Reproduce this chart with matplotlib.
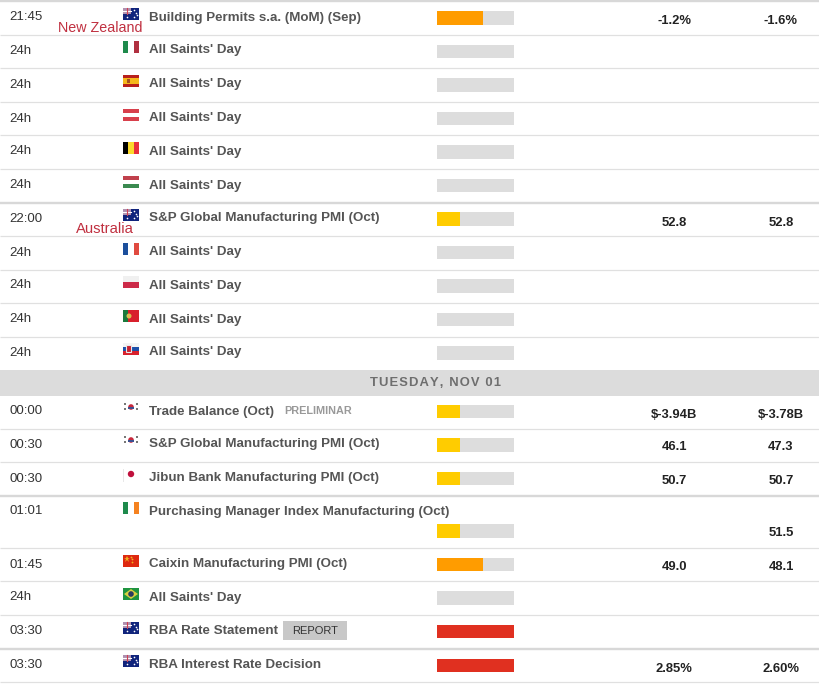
import matplotlib.pyplot as plt
from matplotlib.patches import Rectangle, Circle, Polygon

plt.rcParams['font.family'] = ['Liberation Sans', 'DejaVu Sans']

# Table contents
times = ['21:45', '24h', '24h', '24h', '24h', '24h', '22:00', '24h', '24h', '24h', '24h',
         '00:00', '00:30', '00:30', '01:01', '01:45', '24h', '03:30', '03:30']
events = ['Building Permits s.a. (MoM) (Sep)', "All Saints' Day", "All Saints' Day", "All Saints' Day",
          "All Saints' Day", "All Saints' Day", 'S&P Global Manufacturing PMI (Oct)', "All Saints' Day",
          "All Saints' Day", "All Saints' Day", "All Saints' Day", 'Trade Balance (Oct)',
          'S&P Global Manufacturing PMI (Oct)', 'Jibun Bank Manufacturing PMI (Oct)',
          'Purchasing Manager Index Manufacturing (Oct)', 'Caixin Manufacturing PMI (Oct)',
          "All Saints' Day", 'RBA Rate Statement', 'RBA Interest Rate Decision']
flags = ['au', 'it', 'es', 'at', 'be', 'hu', 'au', 'fr', 'pl', 'pt', 'sk',
         'kr', 'kr', 'jp', 'ie', 'cn', 'br', 'au', 'au']
importance = [0.6, 0, 0, 0, 0, 0, 0.3, 0, 0, 0, 0, 0.3, 0.3, 0.3, 0.3, 0.6, 0, 1, 1]
forecast = ['-1.2%', '', '', '', '', '', '52.8', '', '', '', '', '$-3.94B', '46.1', '50.7', '', '49.0', '', '', '2.85%']
previous = ['-1.6%', '', '', '', '', '', '52.8', '', '', '', '', '$-3.78B', '47.3', '50.7', '51.5', '48.1', '', '', '2.60%']
header = 'TUESDAY, NOV 01'
notes = ['New Zealand', 'Australia']

# Layout in image pixels
text_y = [17.5, 50.5, 84.5, 118.5, 151.5, 185.5, 218.5, 252.5, 285.5, 319.5, 352.5, 411.5, 444.5, 478.5, 511.5,
          564.5, 597.5, 631.5, 664.5]
bar_y = [18, 51.5, 85, 118.5, 152, 185.5, 219, 252.5, 286, 319.5, 353, 411.5, 445, 478.5, 531, 564.5, 598, 631.5, 665.5]
value_y = [20.5, 53, 87, 121, 154, 188, 222.5, 255, 288, 322, 355, 414.5, 447.5, 481.5, 533.5, 567.5, 600, 634, 668.5]
thin_lines = [35, 68, 102, 135, 169, 236, 270, 303, 337, 429, 462, 548, 581, 615, 682]
thick_lines = [1, 203, 496, 649]
bar_colors = {0.3: '#ffcc00', 0.6: '#ff9c00', 1: '#e03020'}

stripes = {
    'it': ('v', ['#1e8a4c', '#ffffff', '#b03040']),
    'es': ('h', ['#b8201c', '#f5b81c', '#f5b81c', '#b8201c']),
    'at': ('h', ['#d8404c', '#ffffff', '#d8404c']),
    'be': ('v', ['#000000', '#fbd92c', '#e8303c']),
    'hu': ('h', ['#c0404c', '#ffffff', '#3a8a50']),
    'fr': ('v', ['#1c4f9c', '#ffffff', '#e04a40']),
    'pl': ('h', ['#f0f0f0', '#cc2a48']),
    'pt': ('v', ['#1a7a3c', '#d8202c', '#d8202c']),
    'sk': ('h', ['#f4f4f4', '#1c50a8', '#d8202c']),
    'ie': ('v', ['#1e8a4c', '#ffffff', '#f58220']),
    'au': ('h', ['#10247c']),
    'kr': ('h', ['#ffffff']),
    'jp': ('h', ['#ffffff']),
    'cn': ('h', ['#de2910']),
    'br': ('h', ['#1f9440']),
}


def draw_flag(ax, code, top):
    left, w, h = 123, 16, 12
    kind, cols = stripes[code]
    n = len(cols)
    for i, c in enumerate(cols):
        if kind == 'v':
            ax.add_patch(Rectangle((left + i * w / n, top), w / n, h, fc=c, ec='none'))
        else:
            ax.add_patch(Rectangle((left, top + i * h / n), w, h / n, fc=c, ec='none'))
    cx, cy = left + w / 2, top + h / 2
    if code == 'au':
        ax.add_patch(Rectangle((left, top), 8, 6, fc='#b090b0', ec='none'))
        ax.plot([left, left + 8], [top + 3, top + 3], color='#ffffff', lw=0.8)
        ax.plot([left + 4, left + 4], [top, top + 6], color='#d04050', lw=0.8)
        ax.plot([left + 11, left + 13, left + 11, left + 14, left + 4], [top + 2, top + 5, top + 9, top + 7, top + 9],
                ls='none', marker='o', ms=1.2, color='#ffffff', mew=0)
    elif code == 'kr':
        ax.add_patch(Circle((cx, cy - 1), 2.8, fc='#c8283c', ec='none'))
        ax.add_patch(Rectangle((cx - 2.8, cy - 1), 5.6, 2.2, fc='#3c5090', ec='none'))
        ax.plot([left + 2, left + 2, left + 14, left + 14], [top + 2, top + 7, top + 2, top + 7],
                ls='none', marker='s', ms=2, color='#777777', mew=0)
    elif code == 'jp':
        ax.add_patch(Circle((cx, cy - 1), 3.2, fc='#c0103c', ec='none'))
        ax.plot([left, left], [top, top + h], color='#e8e8e8', lw=0.7)
    elif code == 'cn':
        ax.plot([left + 4], [top + 4], marker='*', ms=5, color='#f0b020', mew=0)
        ax.plot([left + 8, left + 9, left + 9], [top + 2, top + 4, top + 7], ls='none', marker='o', ms=1.3,
                color='#f0b020', mew=0)
    elif code == 'br':
        ax.add_patch(Polygon([(left + 1, cy), (cx, top + 1), (left + 15, cy), (cx, top + 11)], fc='#d8d040', ec='none'))
        ax.add_patch(Circle((cx, cy), 2.8, fc='#2c3c60', ec='none'))
    elif code == 'pt':
        ax.add_patch(Circle((left + 6, cy), 2.5, fc='#d8c050', ec='none'))
    elif code == 'sk':
        ax.add_patch(Rectangle((left + 3, top + 2), 5, 7, fc='#c82030', ec='#e8e8e8', lw=0.8))
    elif code == 'es':
        ax.add_patch(Rectangle((left + 4, cy - 2), 3, 4, fc='#a85020', ec='none'))


fig = plt.figure(figsize=(8.19, 6.86), dpi=100)
ax = fig.add_axes([0, 0, 1, 1])
ax.set_xlim(0, 819)
ax.set_ylim(686, 0)
ax.axis('off')

# Separators and day header
ax.hlines(thin_lines, 0, 819, color='#e0e0e0', lw=0.9)
ax.hlines(thick_lines, 0, 819, color='#d8d8d8', lw=1.7)
ax.add_patch(Rectangle((0, 370), 819, 26, fc='#dcdcdc', ec='none'))
ax.text(436, 383.5, '\u200a'.join(header), ha='center', va='center', fontsize=9.4, fontweight='bold',
        color='#6e6e6e')

for i in range(len(times)):
    ax.text(9, text_y[i], times[i], va='center', fontsize=9.5, color='#333333')
    ax.text(149, text_y[i], events[i], va='center', fontsize=9.6, fontweight='bold', color='#555555')
    draw_flag(ax, flags[i], text_y[i] - 9.5)
    ax.barh(bar_y[i], 77, height=13.5, left=437, color='#dddddd')
    if importance[i] > 0:
        ax.barh(bar_y[i], importance[i] * 77, height=13.5, left=437, color=bar_colors[importance[i]])
    ax.text(674, value_y[i], forecast[i], ha='center', va='center', fontsize=9.4, fontweight='bold', color='#222222')
    ax.text(781, value_y[i], previous[i], ha='center', va='center', fontsize=9.4, fontweight='bold', color='#222222')

# Tags next to event names
ax.text(284, 411, 'PRELIMINAR', va='center', fontsize=7.8, fontweight='bold', color='#999999')
ax.add_patch(Rectangle((283, 621), 64, 19, fc='#c8c8c8', ec='none'))
ax.text(315, 631, 'REPORT', ha='center', va='center', fontsize=8, color='#333333')

# Red notes typed over the screenshot
ax.text(143, 27.5, notes[0], ha='right', va='center', fontsize=10.3, color='#c03040')
ax.text(134, 229, notes[1], ha='right', va='center', fontsize=10.6, color='#c03040')

plt.savefig('out.png', dpi=100)
